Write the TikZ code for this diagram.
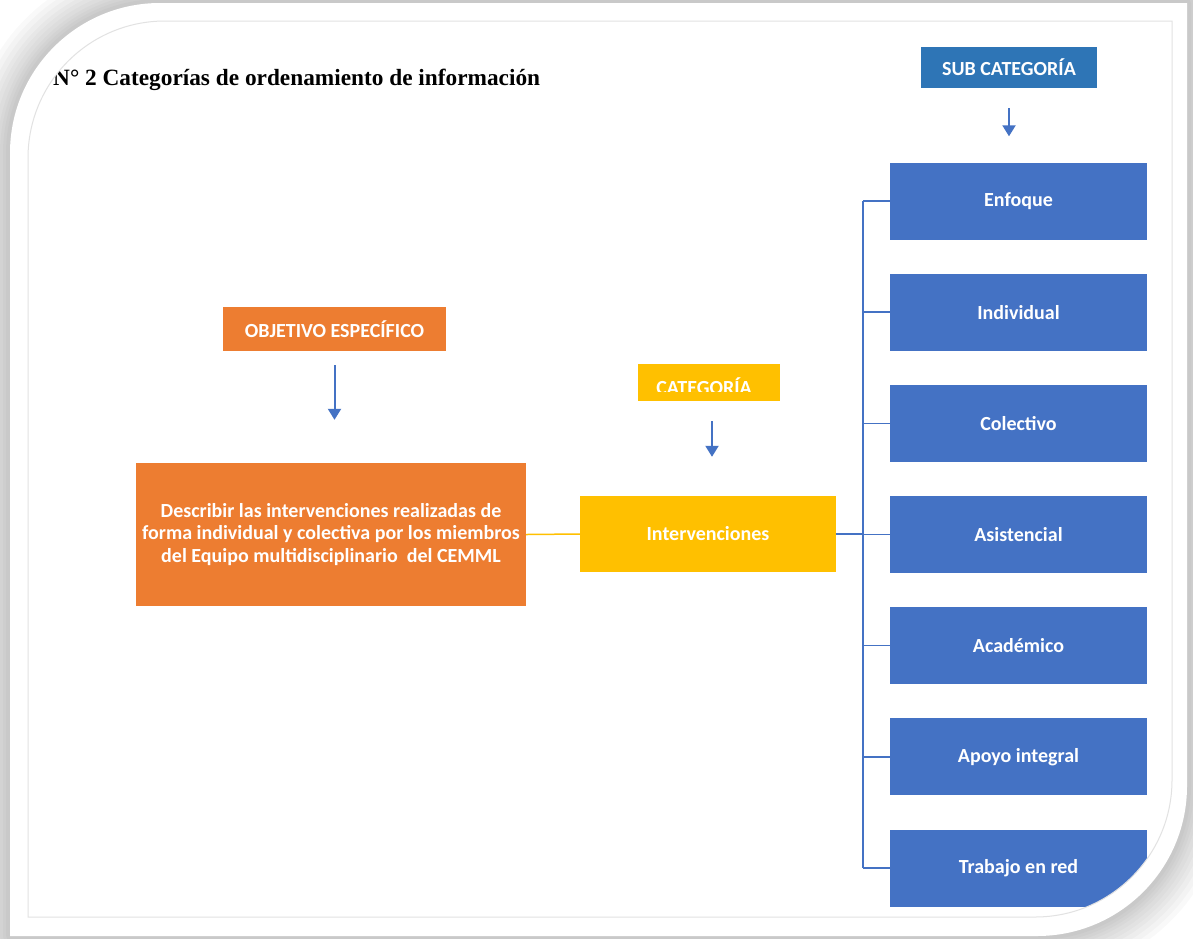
\documentclass[tikz,border=0pt]{standalone}
\usepackage{fontspec}
\setmainfont{Liberation Serif}
\newfontfamily\boxfont{Carlito}
\usepackage{tikz}
\usetikzlibrary{calc}
\usetikzlibrary{arrows.meta}
\usetikzlibrary{positioning}
\definecolor{objorange}{RGB}{237, 125, 49}
\definecolor{catyellow}{RGB}{255, 192, 0}
\definecolor{subblue}{RGB}{68, 114, 196}
\definecolor{headblue}{RGB}{46, 117, 182}
\definecolor{picborder}{RGB}{226, 226, 226}
\tikzset{
    box/.style={inner sep=0pt, text=white, align=center,
                font=\boxfont\bfseries\fontsize{20}{22.5}\selectfont},
    subbox/.style={box, fill=subblue, minimum width=257pt, minimum height=77pt},
    downarrow/.style={subblue, line width=2pt, -{Triangle[length=11pt, width=13pt]}},
    branch/.style={subblue, line width=1.5pt}
}

\begin{document}
\begin{tikzpicture}[x=1pt, y=-1pt]
            % Page, shadow & white frame
            \useasboundingbox (0,0) rectangle (1193,938);
            \foreach \w in {80,70,60,50,42,34,26,20,14,8}
                \draw[black, opacity=0.025, line width=\w pt, line join=round]
                    (10,936) -- (10,153) arc[start angle=180, end angle=270, radius=150]
                    -- (1187,3) -- (1187,786) arc[start angle=0, end angle=90, radius=150] -- cycle;
            \fill[white] (10,936) -- (10,153) arc[start angle=180, end angle=270, radius=150]
                    -- (1187,3) -- (1187,786) arc[start angle=0, end angle=90, radius=150] -- cycle;
            \begin{scope}
            \clip (28,917) -- (28,158) arc[start angle=180, end angle=270, radius=137]
                    -- (1172,21) -- (1172,780) arc[start angle=0, end angle=90, radius=137] -- cycle;
            % Title
            \node[anchor=base west, inner sep=0pt, font=\bfseries\fontsize{23.3}{28}\selectfont]
                (titulo) at (53,85) {N° 2 Categorías de ordenamiento de información};
            % Objetivo
            \node[box, fill=objorange, minimum width=223pt, minimum height=44pt] (objhead)  at (334.5,329)   {OBJETIVO ESPECÍFICO};
            \node[box, fill=objorange, minimum width=390pt, minimum height=143pt] (objetivo) at (331,534.5)
                 {Describir las intervenciones realizadas de\\forma individual y colectiva por los miembros\\del Equipo multidisciplinario\ \ del CEMML};
            % Categoria
            \node[box, fill=catyellow, minimum width=142pt, minimum height=37pt] (cathead)  at (709,382.5)   {};
            \begin{scope}
                \clip (cathead.north west) rectangle (cathead.east |- 0,391);
                \node[box, anchor=base] (cattext) at (704,394.5) {CATEGORÍA};
            \end{scope}
            \node[box, fill=catyellow, minimum width=256pt, minimum height=76pt] (interv)   at (708,534)     {Intervenciones};
            % Sub categorias
            \node[box, fill=headblue,  minimum width=176pt, minimum height=41pt] (subhead)  at (1009,67.5)   {SUB CATEGORÍA};
            \foreach \name/\label [count=\i from 0] in {enfoque/Enfoque, individual/Individual, colectivo/Colectivo,
                     asistencial/Asistencial, academico/Académico, apoyo/Apoyo integral, red/Trabajo en red}
                \node[subbox] (\name) at (1018.5,201+111.17*\i) {\label};
            % Arrows
            \draw[downarrow, shorten <=14pt, shorten >=43pt] (objhead.south) -- (objhead.south |- objetivo.north);
            \draw[downarrow, shorten <=20pt, shorten >=39pt] ([xshift=3pt]cathead.south) -- ([xshift=3pt]cathead.south |- interv.north);
            \draw[downarrow, shorten <=20pt, shorten >=26pt] (subhead.south) -- (subhead.south |- enfoque.north);
            % Connectors
            \coordinate (tronco) at (863,0);
            \draw[catyellow, line width=1.5pt] (objetivo.east) -- (interv.west);
            \draw[branch] (interv.east) -- (interv.east -| tronco);
            \draw[branch] (enfoque.west -| tronco) -- (red.west -| tronco);
            \foreach \name in {enfoque, individual, colectivo, asistencial, academico, apoyo, red}
                \draw[branch] (\name.west -| tronco) -- (\name.west);
            \end{scope}
            % Picture border
            \draw[picborder, line width=1pt]
                    (28,917) -- (28,158) arc[start angle=180, end angle=270, radius=137]
                    -- (1172,21) -- (1172,780) arc[start angle=0, end angle=90, radius=137] -- cycle;
\end{tikzpicture}
\end{document}
